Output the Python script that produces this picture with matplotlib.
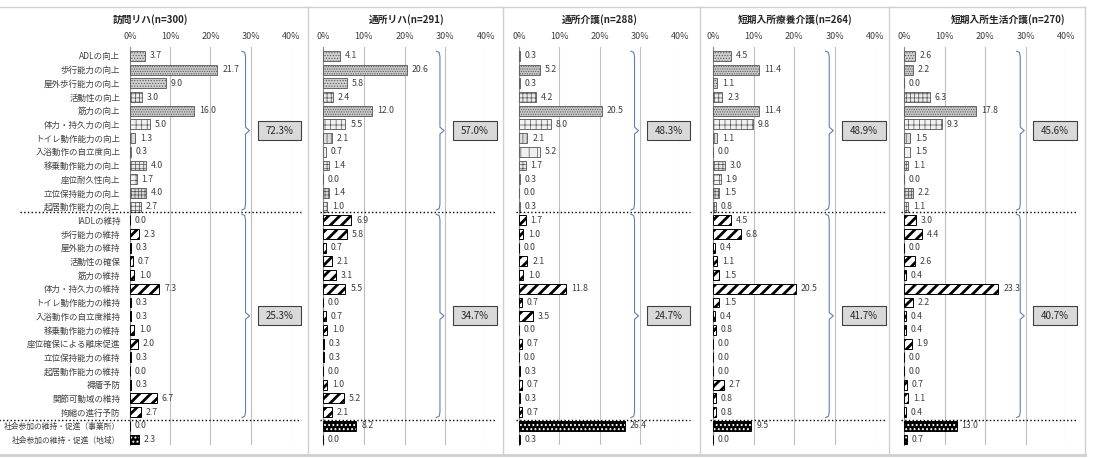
import numpy as np
import matplotlib
matplotlib.use('Agg')
import matplotlib.pyplot as plt
from matplotlib.patches import Rectangle
from matplotlib.lines import Line2D

plt.rcParams['font.family'] = ['Noto Sans CJK JP', 'DejaVu Sans']
plt.rcParams['hatch.linewidth'] = 0.6

# row labels (top to bottom)
labels = ['ADLの向上', '歩行能力の向上', '屋外歩行能力の向上', '活動性の向上', '筋力の向上',
          '体力・持久力の向上', 'トイレ動作能力の向上', '入浴動作の自立度向上', '移乗動作能力の向上',
          '座位耐久性向上', '立位保持能力の向上', '起居動作能力の向上',
          'IADLの維持', '歩行能力の維持', '屋外能力の維持', '活動性の確保', '筋力の維持',
          '体力・持久力の維持', 'トイレ動作能力の維持', '入浴動作の自立度維持', '移乗動作能力の維持',
          '座位確保による離床促進', '立位保持能力の維持', '起居動作能力の維持', '褥瘡予防',
          '関節可動域の維持', '拘縮の進行予防',
          '社会参加の維持・促進（事業所）', '社会参加の維持・促進（地域）']

titles = ['訪問リハ(n=300)', '通所リハ(n=291)', '通所介護(n=288)',
          '短期入所療養介護(n=264)', '短期入所生活介護(n=270)']

improve = [
    [3.7, 21.7, 9.0, 3.0, 16.0, 5.0, 1.3, 0.3, 4.0, 1.7, 4.0, 2.7],
    [4.1, 20.6, 5.8, 2.4, 12.0, 5.5, 2.1, 0.7, 1.4, 0.0, 1.4, 1.0],
    [0.3, 5.2, 0.3, 4.2, 20.5, 8.0, 2.1, 5.2, 1.7, 0.3, 0.0, 0.3],
    [4.5, 11.4, 1.1, 2.3, 11.4, 9.8, 1.1, 0.0, 3.0, 1.9, 1.5, 0.8],
    [2.6, 2.2, 0.0, 6.3, 17.8, 9.3, 1.5, 1.5, 1.1, 0.0, 2.2, 1.1],
]
maintain = [
    [0.0, 2.3, 0.3, 0.7, 1.0, 7.3, 0.3, 0.3, 1.0, 2.0, 0.3, 0.0, 0.3, 6.7, 2.7],
    [6.9, 5.8, 0.7, 2.1, 3.1, 5.5, 0.0, 0.7, 1.0, 0.3, 0.3, 0.0, 1.0, 5.2, 2.1],
    [1.7, 1.0, 0.0, 2.1, 1.0, 11.8, 0.7, 3.5, 0.0, 0.7, 0.0, 0.3, 0.7, 0.3, 0.7],
    [4.5, 6.8, 0.4, 1.1, 1.5, 20.5, 1.5, 0.4, 0.8, 0.0, 0.0, 0.0, 2.7, 0.8, 0.8],
    [3.0, 4.4, 0.0, 2.6, 0.4, 23.3, 2.2, 0.4, 0.4, 1.9, 0.0, 0.0, 0.7, 1.1, 0.4],
]
social = [
    [0.0, 2.3],
    [8.2, 0.0],
    [26.4, 0.3],
    [9.5, 0.0],
    [13.0, 0.7],
]
improve_total = ['72.3%', '57.0%', '48.3%', '48.9%', '45.6%']
maintain_total = ['25.3%', '34.7%', '24.7%', '41.7%', '40.7%']

# panel placement in pixels (0% and 40% gridline)
W, H = 1094, 458
x0_px = [130, 323, 519, 713, 904]
x1_px = [291, 486, 680, 875, 1066]
title_px = [150, 407, 600, 795, 1008]
sep_px = [308, 503, 700, 889]
top_px, bot_px = 47, 445

# pattern per improvement row: (hatch, face)
imp_style = [('......', '#d0d0d0'), ('.......', '#c8c8c8'), ('......', '#cfcfcf'),
             ('++++', '#ececec'), ('.......', '#c8c8c8'), ('+++', '#f2f2f2'),
             ('||||', '#dcdcdc'), ('||', '#f0f0f0'), ('++++', '#e6e6e6'),
             ('+++', '#f2f2f2'), ('+++++', '#d8d8d8'), ('++++', '#eeeeee')]

fig = plt.figure(figsize=(W / 100, H / 100), dpi=100)

grey_txt = '#404040'
n = len(labels)
y = np.arange(n)


def set_hlw(bars, lw):
    for b in bars:
        if hasattr(b, 'set_hatch_linewidth'):
            b.set_hatch_linewidth(lw)


for p in range(5):
    ax = fig.add_axes([x0_px[p] / W, 1 - bot_px / H,
                       (x1_px[p] - x0_px[p]) / W, (bot_px - top_px) / H])
    vals_imp = improve[p]
    vals_mnt = maintain[p]
    vals_soc = social[p]

    for i, v in enumerate(vals_imp):
        h, fcol = imp_style[i]
        bb = ax.barh(i, v, height=0.72, color=fcol, edgecolor='#555555',
                     hatch=h, linewidth=0.6, zorder=3)
        set_hlw(bb, 0.5)
    ym = y[12:27]
    with plt.rc_context({'hatch.linewidth': 2.0}):
        bb = ax.barh(ym, vals_mnt, height=0.72, color='white', edgecolor='black',
                     hatch='///', linewidth=0.7, zorder=3)
    set_hlw(bb, 2.0)
    ys = y[27:]
    with plt.rc_context({'hatch.linewidth': 0.9}):
        bb = ax.barh(ys, vals_soc, height=0.72, color='black', edgecolor='white',
                     hatch='....', linewidth=0, zorder=3)
    set_hlw(bb, 0.9)
    ax.barh(ys, vals_soc, height=0.72, fill=False, edgecolor='black',
            linewidth=0.7, zorder=4)

    allv = list(vals_imp) + list(vals_mnt) + list(vals_soc)
    for i, v in enumerate(allv):
        ax.text(v + 1.2, i, f'{v:.1f}', va='center', ha='left',
                fontsize=6.3, color=grey_txt, zorder=5)

    ax.set_xlim(0, 40)
    ax.set_ylim(28.4, -0.65)
    ax.set_xticks([0, 10, 20, 30, 40])
    ax.set_xticklabels(['0%', '10%', '20%', '30%', '40%'], fontsize=6.5, color=grey_txt)
    ax.xaxis.tick_top()
    ax.tick_params(axis='x', length=0, pad=4)
    ax.grid(axis='x', color='#bfbfbf', linewidth=0.8, zorder=0)
    for s in ['top', 'right', 'bottom']:
        ax.spines[s].set_visible(False)
    ax.spines['left'].set_color('#8c8c8c')
    ax.spines['left'].set_linewidth(0.8)
    if p == 0:
        ax.set_yticks(y)
        ax.set_yticklabels(labels, fontsize=6.1, color=grey_txt)
        ax.tick_params(axis='y', length=0, pad=7)
        for t in ax.get_yticklabels()[27:]:
            t.set_fontsize(5.6)
    else:
        ax.set_yticks([])

    # dotted separators
    left_a = -27.3 if p == 0 else -0.8
    left_b = -32.5 if p == 0 else -0.8
    ax.plot([left_a, 42.5], [11.4, 11.4], ls=':', color='black', lw=1.0,
            clip_on=False, zorder=6)
    ax.plot([left_b, 42.5], [26.55, 26.55], ls=':', color='black', lw=1.0,
            clip_on=False, zorder=6)

    # braces and total boxes
    bx = 28.7
    for top, bot, txt in [(-0.35, 11.25, improve_total[p]), (11.55, 26.4, maintain_total[p])]:
        mid = (top + bot) / 2
        xs = [bx - 0.9, bx - 0.2, bx, bx, bx + 1.0, bx, bx, bx - 0.2, bx - 0.9]
        yy = [top, top + 0.1, top + 0.4, mid - 0.25, mid, mid + 0.25, bot - 0.4, bot - 0.1, bot]
        ax.plot(xs, yy, color='#5a82b8', lw=0.8, clip_on=False, zorder=6)
        ax.add_patch(Rectangle((31.8, mid - 0.7), 10.8, 1.4, facecolor='#d9d9d9',
                               edgecolor='#404040', linewidth=0.8, clip_on=False, zorder=6))
        ax.text(37.2, mid, txt, ha='center', va='center', fontsize=7,
                color='#262626', zorder=7)

    fig.text(title_px[p] / W, 1 - 20 / H, titles[p], ha='center', va='center',
             fontsize=7, fontweight='bold', color='#262626')

# panel frame lines
fc = '#d0d0d0'
for sx in sep_px:
    fig.add_artist(Line2D([sx / W, sx / W], [1 - 7 / H, 1 - 455 / H], color=fc, lw=1))
fig.add_artist(Line2D([0, 1085 / W], [1 - 7 / H, 1 - 7 / H], color=fc, lw=1))
fig.add_artist(Line2D([1085 / W, 1085 / W], [1 - 7 / H, 1 - 455 / H], color=fc, lw=1))
fig.add_artist(Line2D([0, 1085 / W], [1 - 455 / H, 1 - 455 / H], color=fc, lw=2))

fig.savefig('out.png', dpi=100)
